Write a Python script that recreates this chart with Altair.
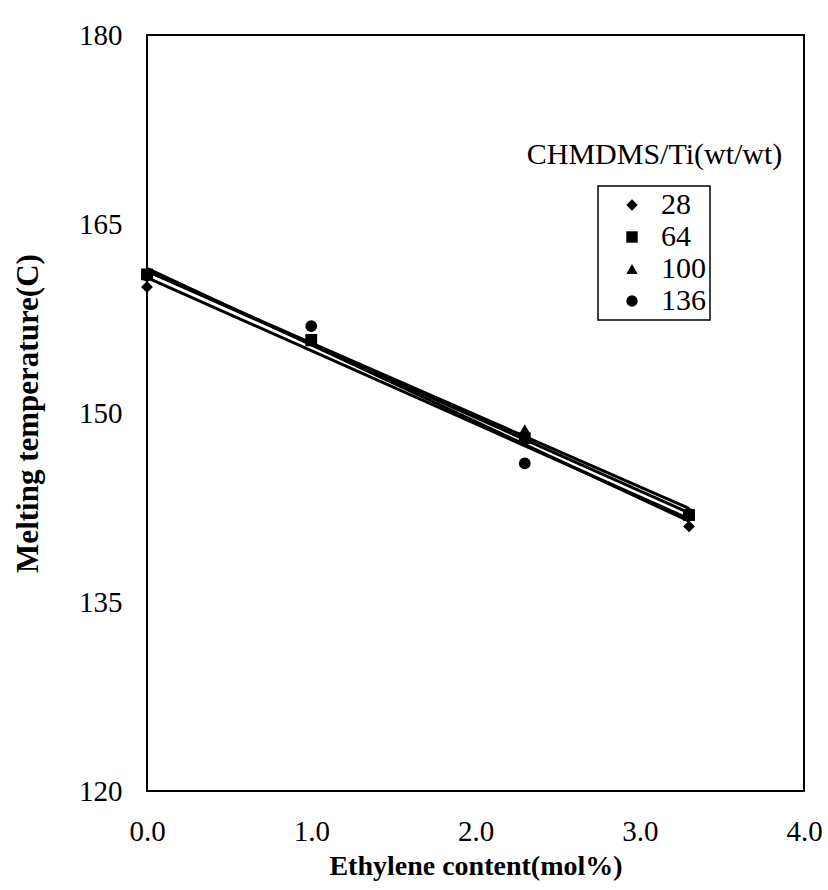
import altair as alt
import pandas as pd

# Data
x_vals = [0.0, 1.0, 2.3, 3.3]
series_names = ["28", "64", "100", "136"]
s28 = [160.0, 155.8, 147.9, 141.0]
s64 = [161.0, 155.8, 148.0, 141.9]
s100 = [161.0, 155.7, 148.7, 142.0]
s136 = [160.9, 156.9, 146.0, 142.0]
shapes = ["diamond", "square", "triangle-up", "circle"]
x_ticks = [0, 1, 2, 3, 4]
y_ticks = [120, 135, 150, 165, 180]
legend_title = "CHMDMS/Ti(wt/wt)"
legend_title_pos = [3.09, 170.5]

draw_order = ["136", "100", "28", "64"]
values = {"28": s28, "64": s64, "100": s100, "136": s136}
rows = []
for i, name in enumerate(draw_order):
    for x, y in zip(x_vals, values[name]):
        rows.append({"series": name, "x": x, "y": y, "order": i})
df = pd.DataFrame(rows)

FONT = "Liberation Serif"

xenc = alt.X("x:Q", scale=alt.Scale(domain=[0, 4], nice=False),
             axis=alt.Axis(values=x_ticks, format=".1f", title="Ethylene content(mol%)",
                           labelPadding=26, titlePadding=6, titleFontSize=28))
yenc = alt.Y("y:Q", scale=alt.Scale(domain=[120, 180], nice=False),
             axis=alt.Axis(values=y_ticks, title="Melting temperature(C)",
                           labelPadding=25, titlePadding=34, titleFontSize=31))

lines = alt.Chart(df).transform_regression(
    "x", "y", groupby=["series"]
).mark_line(color="black", strokeWidth=3).encode(
    x=xenc, y=yenc, detail="series:N"
)

points = alt.Chart(df).mark_point(filled=True, color="black", opacity=1, size=140).encode(
    x=xenc, y=yenc,
    shape=alt.Shape("series:N",
                    scale=alt.Scale(domain=series_names, range=shapes),
                    sort=series_names,
                    legend=alt.Legend(title=None, orient="none", legendX=451, legendY=151,
                                      strokeColor="black", padding=4,
                                      labelFont=FONT, labelFontSize=30, labelColor="black",
                                      labelExpr="datum.label + '\u00a0'",
                                      symbolSize=130, symbolFillColor="black",
                                      symbolStrokeColor="black", symbolStrokeWidth=0,
                                      symbolOffset=15, rowPadding=2, labelOffset=14)),
    order="order:Q"
)

ann = pd.DataFrame({"x": [legend_title_pos[0]], "y": [legend_title_pos[1]], "t": [legend_title]})
title_text = alt.Chart(ann).mark_text(font=FONT, fontSize=30, color="black",
                                      align="center", baseline="middle").encode(
    x=alt.X("x:Q"), y=alt.Y("y:Q"), text="t:N"
)

chart = alt.layer(lines, points, title_text).properties(
    width=657, height=756,
    background="white",
    autosize=alt.AutoSizeParams(type="none"),
    padding={"left": 147, "top": 35, "right": 24, "bottom": 99},
).configure_view(
    stroke="black", strokeWidth=2
).configure_legend(
    strokeWidth=1.5
).configure_axis(
    grid=False, ticks=False, domain=False, labelFlush=False,
    labelFont=FONT, labelFontSize=29, labelColor="black",
    titleFont=FONT, titleFontWeight="bold", titleColor="black"
)

chart.save("out.html", embed_options={"renderer": "svg", "actions": False})
